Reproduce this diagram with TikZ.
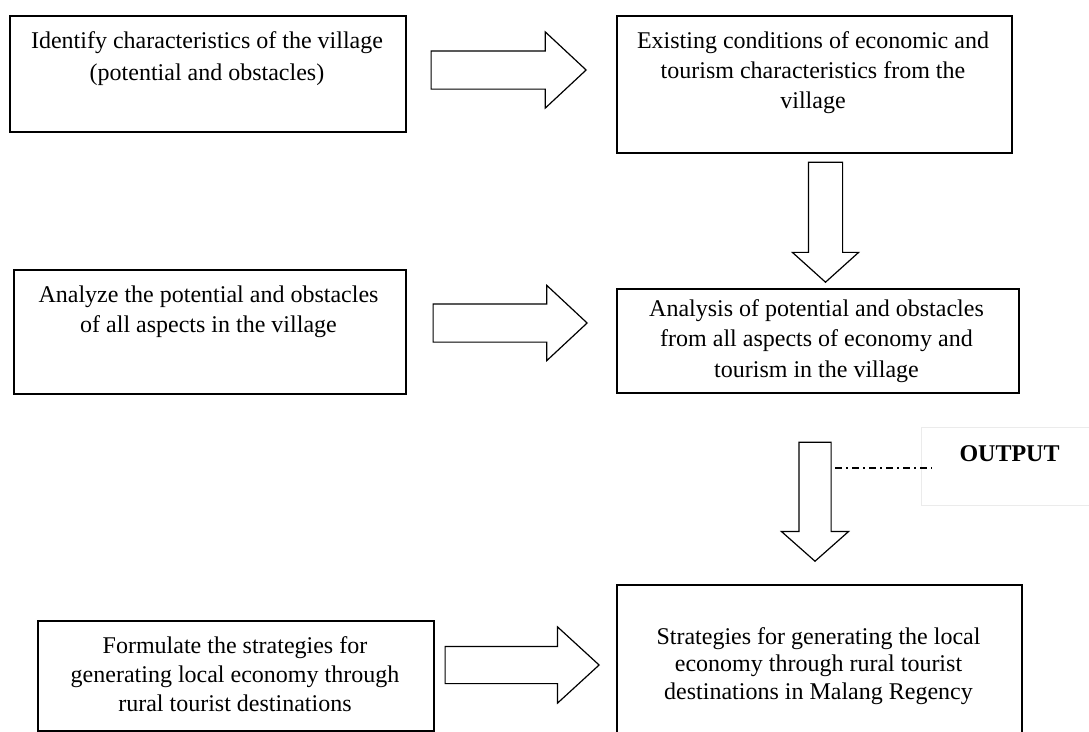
\documentclass[tikz,border=0pt]{standalone}
\usepackage{fontspec}
\setmainfont{Liberation Serif}
\usetikzlibrary{shapes.arrows}
\begin{document}
\begin{tikzpicture}[x=1pt,y=-1pt,
  box/.style={draw, line width=1.5pt, inner sep=0pt, anchor=north west},
  txt/.style={align=center, inner sep=0pt, anchor=base},
  barrow/.style={single arrow, draw, line width=1.2pt, inner xsep=0pt, anchor=tip, fill=white},
  dashdot/.style={line width=1.3pt, dash pattern=on 7pt off 4pt on 2pt off 4pt},
  outbox/.style={draw=black!8, line width=1pt, inner sep=0pt, anchor=north west}
]
\useasboundingbox (0,0) rectangle (1089,731);
\clip (0,0) rectangle (1089,731);
\fill[white] (0,0) rectangle (1089,731);

% boxes
\node[box, minimum width=396pt, minimum height=116pt] (b1) at (9,15) {};
\node[box, minimum width=395pt, minimum height=137pt] (b2) at (616,15) {};
\node[box, minimum width=392pt, minimum height=124pt] (b3) at (13,269) {};
\node[box, minimum width=402pt, minimum height=104pt] (b4) at (616,288) {};
\node[box, minimum width=396pt, minimum height=110pt] (b5) at (37,620) {};
\node[box, minimum width=405pt, minimum height=170pt] (b6) at (616,584) {};
\node[outbox, minimum width=200pt, minimum height=78pt] (ob) at (921,427) {};

% texts (anchor base = baseline of the last line)
\node[txt, font=\fontsize{24}{32}\selectfont] (t1) at (207,80)
  {Identify characteristics of the village\\(potential and obstacles)};
\node[txt, font=\fontsize{24}{30}\selectfont] (t2) at (813,108)
  {Existing conditions of economic and\\tourism characteristics from the\\village};
\node[txt, font=\fontsize{24}{30}\selectfont] (t3) at (208.5,332)
  {Analyze the potential and obstacles\\of all aspects in the village};
\node[txt, font=\fontsize{24}{30.5}\selectfont] (t4) at (816.5,377)
  {Analysis of potential and obstacles\\from all aspects of economy and\\tourism in the village};
\node[txt, font=\fontsize{24}{29}\selectfont] (t5) at (235,711)
  {Formulate the strategies for\\generating local economy through\\rural tourist destinations};
\node[txt, font=\fontsize{24}{27.5}\selectfont] (t6) at (818.5,699)
  {Strategies for generating the local\\economy through rural tourist\\destinations in Malang Regency};
\node[txt, font=\bfseries\fontsize{24}{30}\selectfont] (ot) at (1009.5,461) {OUTPUT};

% block arrows
\node[barrow, inner ysep=18.5pt, single arrow head extend=19pt, minimum height=155pt, single arrow tip angle=86] (a1) at (587,70) {};
\node[barrow, inner ysep=18.5pt, single arrow head extend=18.5pt, minimum height=154pt, single arrow tip angle=86] (a3) at (588,323) {};
\node[barrow, inner ysep=18pt, single arrow head extend=19.5pt, minimum height=154pt, single arrow tip angle=85] (a5) at (600,665) {};
\node[barrow, rotate=-90, inner ysep=16.5pt, single arrow head extend=16pt, minimum height=120pt, single arrow tip angle=96] (a2) at (825.5,283) {};
\node[barrow, rotate=-90, inner ysep=15.5pt, single arrow head extend=17.5pt, minimum height=119pt, single arrow tip angle=97] (a4) at (815,562) {};

% dash-dot connector to OUTPUT
\coordinate (d1) at (835,468);
\coordinate (d2) at (932,468);
\draw[dashdot] (d1) -- (d2);
\end{tikzpicture}
\end{document}
